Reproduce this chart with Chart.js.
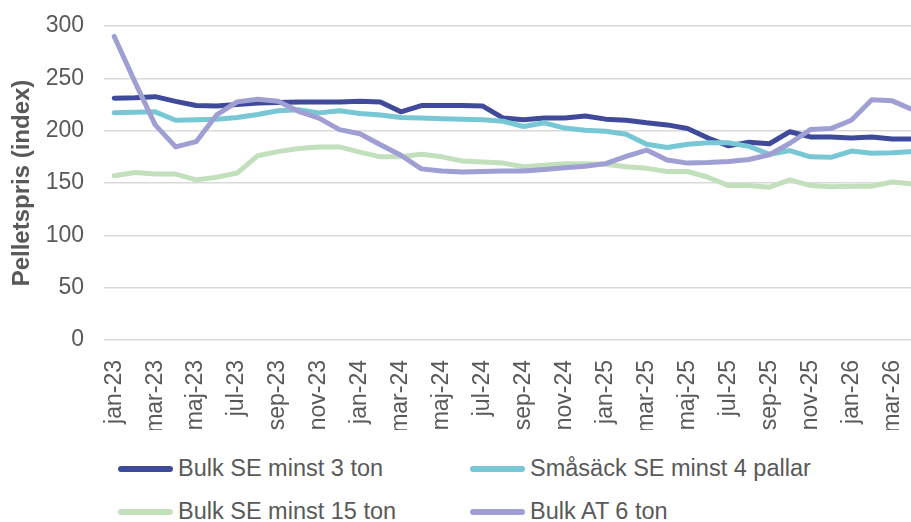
<!DOCTYPE html>
<html>
<head>
<meta charset="utf-8">
<script src="https://cdn.jsdelivr.net/npm/chart.js@4"></script>
<style>
  html, body { margin: 0; padding: 0; overflow: hidden; background: #fff; }
  #wrap { position: relative; width: 911px; height: 522px; overflow: hidden; }
  #chart { position: absolute; left: 0; top: 0; }
  #legend {
    position: absolute; left: 118px; top: 447px;
    display: grid; grid-template-columns: 352px 352px; grid-auto-rows: 43px;
    font: 23.5px "Liberation Sans", Arial, sans-serif; color: #595959;
  }
  .item { display: flex; align-items: center; white-space: nowrap; }
  .swatch { width: 55px; height: 6px; border-radius: 3px; margin-right: 5px; }
</style>
</head>
<body>
<div id="wrap">
  <canvas id="chart" width="923" height="430"></canvas>
  <div id="legend"></div>
</div>
<script>
const months = ['jan', 'feb', 'mar', 'apr', 'maj', 'jun', 'jul', 'aug', 'sep', 'okt', 'nov', 'dec'];
const labels = [];
['23', '24', '25', '26'].forEach(yr => months.forEach(m => labels.push(`${m}-${yr}`)));
labels.length = 40; // jan-23 .. apr-26

const seriesNames = ['Bulk SE minst 3 ton', 'Småsäck SE minst 4 pallar', 'Bulk SE minst 15 ton', 'Bulk AT 6 ton'];
const seriesColors = ['#3f4a9b', '#78c7d4', '#c2e0bb', '#a09fd3'];

const bulk3 = [231, 231.5, 232.5, 228, 224, 223.5, 225, 226.5, 227, 227.5,
  227.5, 227.5, 228, 227.5, 218, 224, 224, 224, 223.5, 212,
  210.5, 212, 212, 214, 211, 210, 207.5, 205.5, 202, 193,
  185.5, 189, 187.5, 199, 194, 194, 193, 194, 192, 192];
const smasack = [217, 217.5, 218, 210, 210.5, 211, 212.5, 215.5, 219, 220,
  217, 219, 216.5, 215, 212.5, 212, 211.5, 211, 210.5, 209,
  204, 207.5, 202.5, 200.5, 199.5, 196.5, 187, 184, 187, 188.5,
  188.5, 185, 177.5, 181, 175, 174.5, 180.5, 178.5, 179, 180];
const bulk15 = [157, 160, 158.5, 158.5, 153, 155.5, 159.5, 176, 180, 183,
  184.5, 184.5, 179.5, 175, 175, 177.5, 175, 171, 170, 169,
  165.5, 167, 168.5, 168.5, 168, 165.5, 164, 161, 161, 155.5,
  147.5, 147.5, 146, 153, 147.5, 146.5, 147, 147, 151, 149];
const bulkAT = [290, 247, 205.5, 184.5, 189.5, 215, 227.5, 230, 228, 218.5,
  212, 201, 197, 186.5, 176.5, 163.5, 161.5, 160.5, 161, 161.5,
  161.5, 163, 164.5, 166, 168.5, 175.5, 181.5, 172, 169, 169.5,
  170.5, 172.5, 177, 188, 201, 202, 210, 229.5, 228.5, 220];

const yTicks = [0, 50, 100, 150, 200, 250, 300];
const values = [bulk3, smasack, bulk15, bulkAT];

const font = '"Liberation Sans", Arial, sans-serif';
const textColor = '#595959';

// legend i två kolumner som i originalet
const legend = document.getElementById('legend');
seriesNames.forEach((name, i) => {
  const it = document.createElement('div');
  it.className = 'item';
  it.innerHTML = `<span class="swatch" style="background:${seriesColors[i]}"></span>${name}`;
  legend.appendChild(it);
});

const datasets = seriesNames.map((name, i) => ({
  label: name,
  data: values[i],
  borderColor: seriesColors[i],
  backgroundColor: seriesColors[i],
  borderWidth: 5,
  borderCapStyle: 'round',
  borderJoinStyle: 'round',
  pointRadius: 0,
  tension: 0,
  fill: false,
  order: 4 - i
}));

new Chart(document.getElementById('chart'), {
  type: 'line',
  data: { labels, datasets },
  options: {
    responsive: false,
    animation: false,
    events: [],
    layout: { padding: { top: 26, left: 0, right: 0, bottom: 0 } },
    plugins: { legend: { display: false }, tooltip: { enabled: false } },
    scales: {
      x: {
        offset: true,
        grid: { display: false },
        border: { display: false },
        ticks: {
          autoSkip: false,
          maxRotation: 90,
          minRotation: 90,
          padding: 12,
          color: textColor,
          font: { family: font, size: 23 },
          callback: (v, i) => (i % 2 === 0 ? labels[i] : '')
        },
        afterFit: s => { s.height = 90; s.paddingLeft = 0; s.paddingRight = 0; }
      },
      y: {
        min: 0,
        max: 300,
        afterBuildTicks: s => { s.ticks = yTicks.map(v => ({ value: v })); },
        grid: { color: '#d9d9d9', lineWidth: 1.5, drawTicks: false },
        border: { display: false },
        ticks: {
          padding: 20,
          color: textColor,
          font: { family: font, size: 23 }
        },
        title: {
          display: true,
          text: 'Pelletspris (index)',
          color: textColor,
          font: { family: font, size: 24, weight: 'bold' },
          padding: { top: 8, bottom: 0 }
        },
        afterFit: s => { s.width = 104; s.paddingTop = 0; s.paddingBottom = 0; }
      }
    }
  }
});
</script>
</body>
</html>
